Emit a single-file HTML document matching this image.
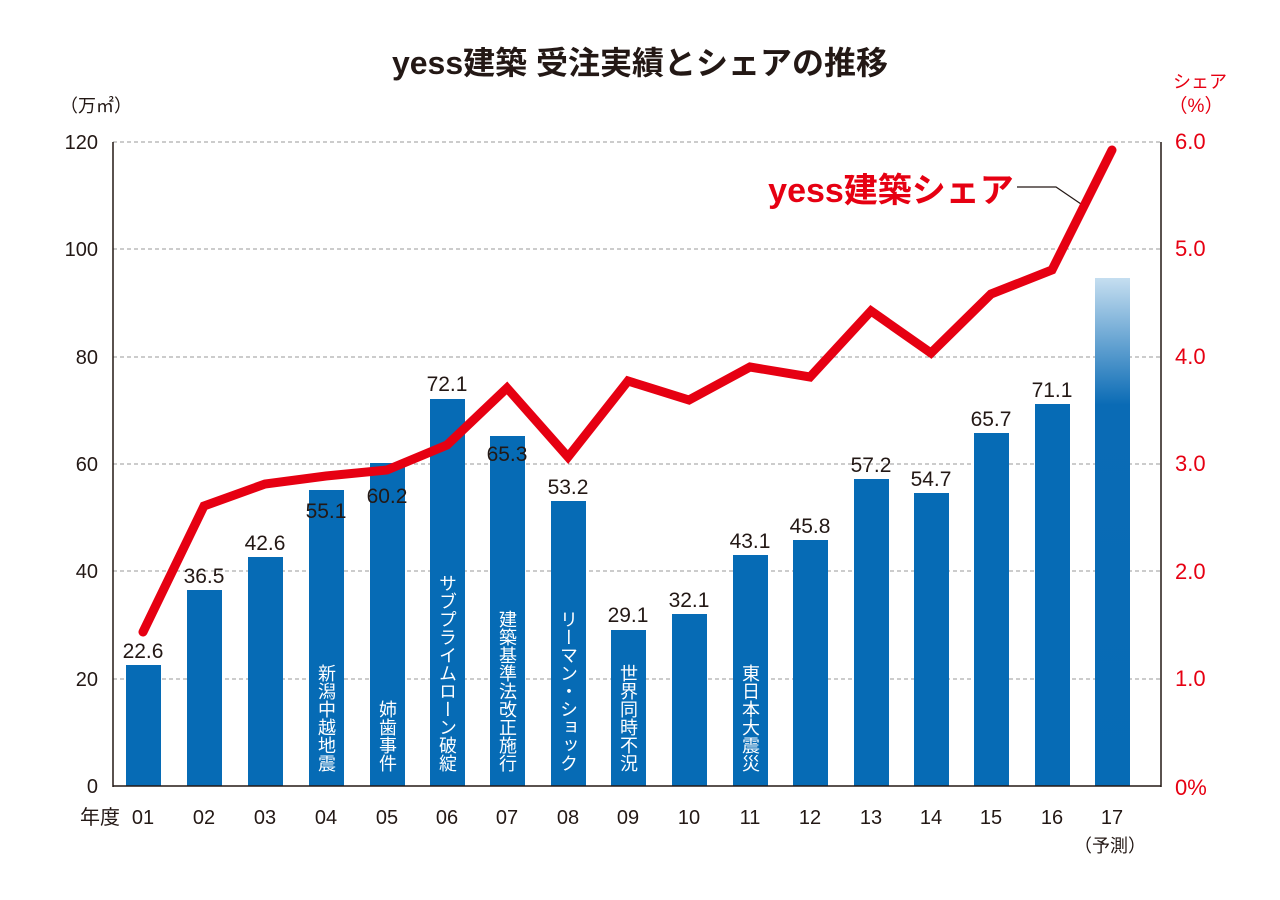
<!DOCTYPE html>
<html><head><meta charset="utf-8"><style>
body{margin:0;background:#fff}
svg{display:block;font-family:"Liberation Sans","Noto Sans CJK JP",sans-serif}
.v{writing-mode:vertical-rl;fill:#fff;font-size:18px;text-anchor:end}
</style></head><body>
<svg width="1280" height="900" viewBox="0 0 1280 900">
<defs><linearGradient id="g" x1="0" y1="0" x2="0" y2="1"><stop offset="0" stop-color="#c5def0"/><stop offset="0.25" stop-color="#0a6bb5"/><stop offset="1" stop-color="#066bb5"/></linearGradient></defs>
<text x="640" y="74" text-anchor="middle" font-size="32" font-weight="bold" fill="#231815">yess建築 受注実績とシェアの推移</text>
<text x="60" y="112" font-size="18" fill="#231815">（万㎡）</text>
<text x="1200" y="88" text-anchor="middle" font-size="18" fill="#e60012">シェア</text>
<text x="1196" y="112" text-anchor="middle" font-size="19" fill="#e60012">（%）</text>
<g stroke="#999" stroke-dasharray="4,3" stroke-width="1">
<line x1="113" x2="1161" y1="142" y2="142"/><line x1="113" x2="1161" y1="249" y2="249"/><line x1="113" x2="1161" y1="357" y2="357"/><line x1="113" x2="1161" y1="464" y2="464"/><line x1="113" x2="1161" y1="571" y2="571"/><line x1="113" x2="1161" y1="679" y2="679"/></g>
<g font-size="20" fill="#231815" text-anchor="end">
<text x="98" y="793">0</text><text x="98" y="686">20</text><text x="98" y="578">40</text><text x="98" y="471">60</text><text x="98" y="364">80</text><text x="98" y="256">100</text><text x="98" y="149">120</text></g>
<g font-size="22" fill="#e60012">
<text x="1175" y="795">0%</text><text x="1175" y="686">1.0</text><text x="1175" y="579">2.0</text><text x="1175" y="471">3.0</text><text x="1175" y="364">4.0</text><text x="1175" y="256">5.0</text><text x="1175" y="149">6.0</text></g>
<g fill="#066bb5">
<rect x="126" y="665" width="35" height="121"/><rect x="187" y="590" width="35" height="196"/><rect x="248" y="557" width="35" height="229"/><rect x="309" y="490" width="35" height="296"/><rect x="370" y="463" width="35" height="323"/><rect x="430" y="399" width="35" height="387"/><rect x="490" y="436" width="35" height="350"/><rect x="551" y="501" width="35" height="285"/><rect x="611" y="630" width="35" height="156"/><rect x="672" y="614" width="35" height="172"/><rect x="733" y="555" width="35" height="231"/><rect x="793" y="540" width="35" height="246"/><rect x="854" y="479" width="35" height="307"/><rect x="914" y="493" width="35" height="293"/><rect x="974" y="433" width="35" height="353"/><rect x="1035" y="404" width="35" height="382"/>
<rect x="1095" y="278" width="35" height="508" fill="url(#g)"/></g>
<g font-size="21" fill="#231815" text-anchor="middle">
<text x="143" y="658">22.6</text><text x="204" y="583">36.5</text><text x="265" y="550">42.6</text><text x="326" y="518">55.1</text><text x="387" y="503">60.2</text><text x="447" y="391">72.1</text><text x="507" y="461">65.3</text><text x="568" y="494">53.2</text><text x="628" y="622">29.1</text><text x="689" y="607">32.1</text><text x="750" y="548">43.1</text><text x="810" y="533">45.8</text><text x="871" y="472">57.2</text><text x="931" y="486">54.7</text><text x="991" y="426">65.7</text><text x="1052" y="397">71.1</text></g>
<g class="v">
<text x="326" y="772">新潟中越地震</text><text x="387" y="772">姉歯事件</text><text x="447" y="772">サブプライムローン破綻</text><text x="507" y="772">建築基準法改正施行</text><text x="568" y="772">リーマン・ショック</text><text x="628" y="772">世界同時不況</text><text x="750" y="772">東日本大震災</text></g>
<line x1="113" y1="142" x2="113" y2="787" stroke="#231815" stroke-width="1.5"/>
<line x1="1161" y1="142" x2="1161" y2="787" stroke="#231815" stroke-width="1.5"/>
<line x1="113" y1="786" x2="1161" y2="786" stroke="#231815" stroke-width="1.5"/>
<g font-size="20" fill="#231815" text-anchor="middle">
<text x="100" y="824">年度</text><text x="143" y="824">01</text><text x="204" y="824">02</text><text x="265" y="824">03</text><text x="326" y="824">04</text><text x="387" y="824">05</text><text x="447" y="824">06</text><text x="507" y="824">07</text><text x="568" y="824">08</text><text x="628" y="824">09</text><text x="689" y="824">10</text><text x="750" y="824">11</text><text x="810" y="824">12</text><text x="871" y="824">13</text><text x="931" y="824">14</text><text x="991" y="824">15</text><text x="1052" y="824">16</text><text x="1112" y="824">17</text>
<text x="1110" y="852" font-size="18">（予測）</text></g>
<polyline points="1017,187 1056,187 1081,204" fill="none" stroke="#231815" stroke-width="1.2"/>
<polyline points="143,632 204,506 265,484 326,476 387,470 447,445 507,388 568,457 628,381 689,400 750,367 810,377 871,311 931,353 991,294 1052,270 1112,150" fill="none" stroke="#e60012" stroke-width="9" stroke-linejoin="miter" stroke-linecap="round"/>
<text x="891" y="202" text-anchor="middle" font-size="34" font-weight="bold" fill="#e60012">yess建築シェア</text>
</svg>
</body></html>
